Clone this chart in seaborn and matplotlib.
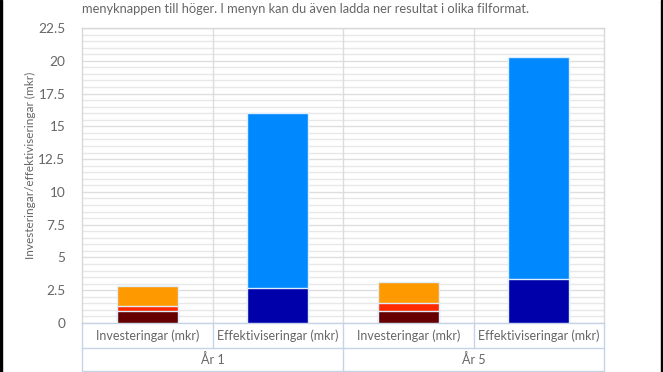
import matplotlib
matplotlib.use("Agg")
import matplotlib.pyplot as plt
import seaborn as sns
import pandas as pd
import numpy as np

# data
years = ["År 1", "År 5"]
categories = ["Investeringar (mkr)", "Effektiviseringar (mkr)"]

# investment segments (bottom -> top)
inv_darkred = [0.9, 0.95]
inv_red = [0.4, 0.55]
inv_orange = [1.55, 1.6]
# efficiency segments (bottom -> top)
eff_darkblue = [2.7, 3.35]
eff_lightblue = [13.3, 16.95]

yticks = [0, 2.5, 5, 7.5, 10, 12.5, 15, 17.5, 20, 22.5]
ytick_labels = ["0", "2.5", "5", "7.5", "10", "12.5", "15", "17.5", "20", "22.5"]

sns.set_style("white")
plt.rcParams["font.family"] = ["Lato", "DejaVu Sans"]
txt = "#666666"

positions = [f"{y}|{c}" for y in years for c in categories]
inv_pos = [f"{y}|{categories[0]}" for y in years]
eff_pos = [f"{y}|{categories[1]}" for y in years]

fig = plt.figure(figsize=(6.63, 3.72), dpi=100)
W, H = 663, 372
ax = fig.add_axes([82 / W, 1 - 323 / H, (604 - 82) / W, (323 - 28) / H])

# stacked bars drawn as cumulative totals, tallest first
layers = [
    (inv_pos, np.array(inv_darkred) + inv_red + inv_orange, "#ff9900"),
    (inv_pos, np.array(inv_darkred) + inv_red, "#ff2a00"),
    (inv_pos, np.array(inv_darkred), "#660000"),
    (eff_pos, np.array(eff_darkblue) + eff_lightblue, "#0088ff"),
    (eff_pos, np.array(eff_darkblue), "#0000aa"),
]
for pos, vals, col in layers:
    df = pd.DataFrame({"pos": pos, "val": vals})
    sns.barplot(data=df, x="pos", y="val", order=positions, color=col,
                width=0.47, saturation=1, edgecolor="#ddeeff", linewidth=1.0,
                ax=ax, zorder=3)

ax.set_ylim(0, 22.5)
ax.set_xlim(-0.5, 3.5)
ax.set_yticks(yticks)
ax.set_yticklabels(ytick_labels, color=txt, fontsize=9.8)
ax.set_yticks(np.arange(0, 22.51, 0.5), minor=True)
ax.tick_params(axis="y", which="both", length=0, pad=12)
ax.set_xticks([])
ax.set_xlabel("")
ax.set_ylabel("Investeringar/effektiviseringar (mkr)", color=txt, fontsize=8.5)
ax.yaxis.set_label_coords(-46 / 522, 0.535)
ax.grid(axis="y", which="minor", color="#e8e8e8", linewidth=1.0, zorder=0)
ax.grid(axis="y", which="major", color="#dedede", linewidth=1.0, zorder=0)
for x in [0.5, 1.5, 2.5]:
    ax.axvline(x, color="#dcdcdc", linewidth=1.0, zorder=1)
for s in ax.spines.values():
    s.set_color("#d8d8d8")
    s.set_linewidth(1.0)
ax.spines["bottom"].set_color("#c5d3e6")

# category table under the plot
tr = ax.get_xaxis_transform()
lc = "#c5d3e6"
r1 = -25 / 295
r2 = -47.5 / 295
kw = dict(color=lc, linewidth=1.0, clip_on=False, transform=tr)
ax.plot([-0.5, 3.5], [r1, r1], **kw)
ax.plot([-0.5, 3.5], [r2, r2], **kw)
for x in [-0.5, 1.5, 3.5]:
    ax.plot([x, x], [0, r2], **kw)
for x in [0.5, 2.5]:
    ax.plot([x, x], [0, r1], **kw)
for i, p in enumerate(positions):
    ax.text(i, r1 / 2, p.split("|")[1], transform=tr, ha="center", va="center",
            color=txt, fontsize=9)
for j, y in enumerate(years):
    ax.text(2 * j + 0.5, (r1 + r2) / 2, y, transform=tr, ha="center", va="center",
            color=txt, fontsize=9)

fig.text(82 / W, 1 - 9 / H,
         "menyknappen till höger. I menyn kan du även ladda ner resultat i olika filformat.",
         ha="left", va="center", color=txt, fontsize=9.3)

# black frame edges left and right
fig.patches.append(plt.Rectangle((0, 0), 2 / W, 1, transform=fig.transFigure, color="black"))
fig.patches.append(plt.Rectangle((1 - 2 / W, 0), 2 / W, 1, transform=fig.transFigure, color="black"))

fig.savefig("out.png", dpi=100)
